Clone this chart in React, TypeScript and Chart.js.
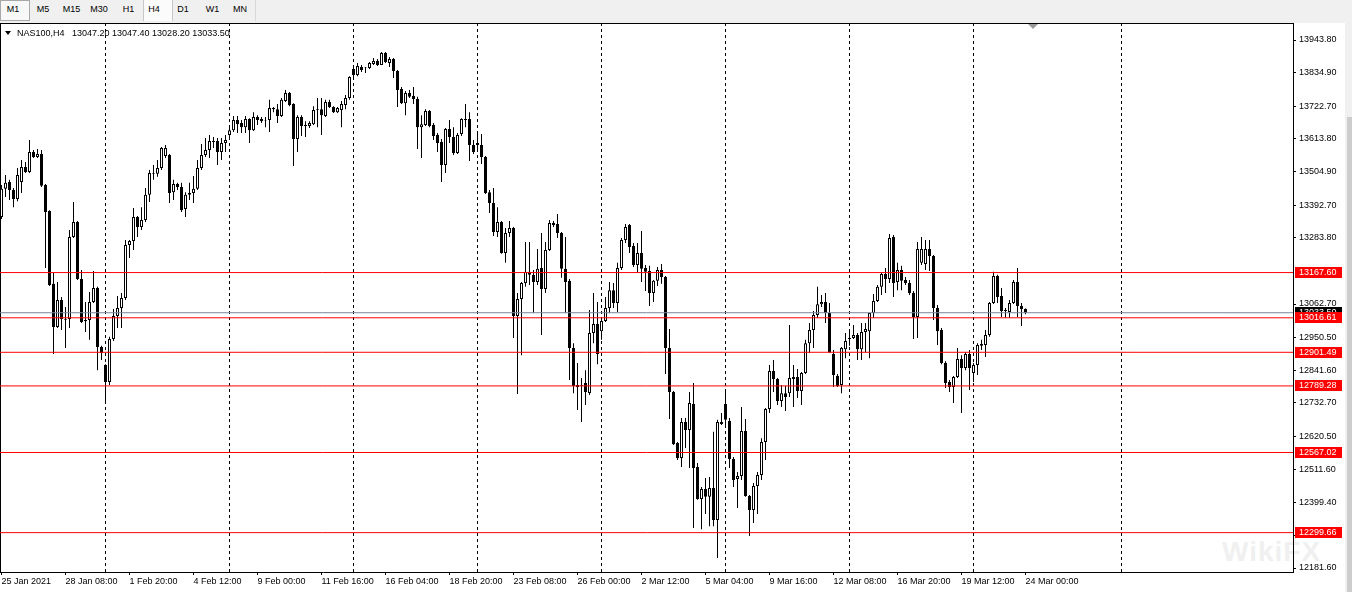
import React, { useEffect, useRef } from "react";
import { Chart, registerables } from "chart.js";

Chart.register(...registerables);

const FONT = "'Liberation Sans', Arial, sans-serif";

const symbolTitle = "NAS100,H4";
const lastQuote = ["13047.20", "13047.40", "13028.20", "13033.50"];
const timeframes = ["M1", "M5", "M15", "M30", "H1", "H4", "D1", "W1", "MN"];

const opens = [
  13353, 13447, 13470, 13443, 13413, 13470, 13520, 13503, 13570, 13553,
  13563, 13460, 13373, 13130, 12986, 13076, 13013, 13013, 13286, 13336,
  13146, 13005, 13009, 13069, 13116, 12919, 12859, 12802, 12946, 13023,
  13049, 13083, 13260, 13273, 13353, 13320, 13343, 13427, 13497, 13497,
  13517, 13557, 13560, 13436, 13463, 13453, 13380, 13427, 13433, 13447,
  13517, 13560, 13577, 13607, 13607, 13570, 13600, 13627, 13643, 13677,
  13667, 13653, 13680, 13643, 13687, 13680, 13675, 13677, 13717, 13713,
  13690, 13740, 13767, 13730, 13613, 13687, 13657, 13657, 13663, 13710,
  13713, 13690, 13737, 13720, 13703, 13710, 13727, 13750, 13847, 13827,
  13854, 13850, 13850, 13864, 13874, 13860, 13900, 13867, 13880, 13840,
  13780, 13733, 13767, 13757, 13747, 13653, 13660, 13707, 13660, 13627,
  13603, 13527, 13647, 13620, 13567, 13630, 13677, 13680, 13593, 13600,
  13593, 13553, 13436, 13400, 13303, 13336, 13233, 13300, 13316, 13023,
  13079, 13133, 13170, 13160, 13136, 13183, 13113, 13243, 13333, 13330,
  13300, 13180, 13140, 12916, 12792, 12790, 12799, 12766, 12966, 12996,
  12972, 13006, 13049, 13109, 13066, 13183, 13276, 13326, 13256, 13193,
  13233, 13183, 13173, 13099, 13140, 13176, 13153, 12916, 12769, 12599,
  12549, 12669, 12642, 12729, 12519, 12412, 12445, 12419, 12449, 12342,
  12669, 12729, 12672, 12545, 12479, 12489, 12639, 12422, 12375, 12455,
  12492, 12602, 12712, 12839, 12812, 12739, 12765, 12765, 12819, 12819,
  12772, 12832, 12932, 12976, 13026, 13062, 13069, 13033, 12896, 12823,
  12792, 12912, 12946, 12949, 12959, 12912, 12969, 12972, 13033, 13073,
  13120, 13163, 13146, 13286, 13136, 13176, 13143, 13133, 13099, 13019,
  13200, 13196, 13246, 13223, 13049, 12976, 12866, 12802, 12786, 12819,
  12879, 12849, 12896, 12832, 12859, 12923, 12926, 12959, 13066, 13156,
  13089, 13039, 13036, 13066, 13136, 13056, 13047.2,
];

const highs = [
  13460, 13493, 13477, 13450, 13517, 13543, 13537, 13610, 13577, 13580,
  13577, 13463, 13376, 13166, 13136, 13086, 13053, 13310, 13403, 13340,
  13176, 13069, 13103, 13173, 13120, 12923, 12862, 12953, 13046, 13089,
  13099, 13276, 13276, 13383, 13356, 13386, 13450, 13510, 13527, 13543,
  13587, 13593, 13563, 13477, 13467, 13467, 13436, 13467, 13490, 13543,
  13597, 13617, 13627, 13620, 13617, 13617, 13627, 13650, 13690, 13690,
  13677, 13690, 13683, 13703, 13693, 13687, 13687, 13744, 13720, 13730,
  13750, 13777, 13770, 13733, 13693, 13693, 13673, 13673, 13723, 13750,
  13750, 13744, 13744, 13723, 13720, 13740, 13760, 13823, 13854, 13867,
  13860, 13854, 13870, 13884, 13880, 13904, 13904, 13887, 13884, 13844,
  13787, 13774, 13777, 13787, 13754, 13693, 13713, 13710, 13667, 13633,
  13613, 13650, 13677, 13653, 13633, 13683, 13730, 13703, 13610, 13633,
  13630, 13557, 13443, 13450, 13386, 13340, 13316, 13340, 13320, 13099,
  13136, 13270, 13270, 13176, 13246, 13300, 13270, 13343, 13340, 13363,
  13303, 13286, 13146, 12932, 12866, 12816, 12842, 13043, 13099, 13069,
  13009, 13086, 13136, 13133, 13200, 13283, 13330, 13330, 13266, 13266,
  13306, 13193, 13190, 13143, 13186, 13196, 13156, 12979, 12772, 12602,
  12682, 12682, 12769, 12799, 12532, 12452, 12482, 12485, 12636, 12676,
  12699, 12769, 12682, 12552, 12502, 12719, 12679, 12425, 12465, 12502,
  12615, 12716, 12859, 12876, 12816, 12792, 12789, 12993, 12859, 12846,
  12836, 12943, 12999, 13039, 13120, 13093, 13099, 13066, 12909, 12829,
  12919, 12966, 12976, 12993, 12966, 12999, 12999, 13033, 13096, 13126,
  13166, 13183, 13296, 13293, 13200, 13190, 13153, 13143, 13106, 13270,
  13286, 13276, 13276, 13226, 13059, 12983, 12872, 12809, 12822, 12916,
  12892, 12902, 12909, 12866, 12932, 12943, 12976, 13069, 13170, 13160,
  13116, 13049, 13076, 13143, 13183, 13066, 13047.4,
];

const lows = [
  13346, 13420, 13410, 13386, 13406, 13433, 13500, 13500, 13550, 13550,
  13453, 13183, 13123, 12896, 12983, 12976, 12916, 12983, 13283, 13143,
  12999, 12969, 12943, 13066, 12842, 12876, 12736, 12792, 12939, 12983,
  12983, 13076, 13216, 13243, 13286, 13310, 13336, 13403, 13477, 13487,
  13510, 13550, 13400, 13410, 13443, 13370, 13353, 13410, 13400, 13443,
  13510, 13553, 13550, 13583, 13527, 13543, 13570, 13610, 13637, 13633,
  13633, 13633, 13600, 13640, 13660, 13667, 13653, 13637, 13703, 13667,
  13687, 13737, 13723, 13523, 13570, 13623, 13620, 13650, 13660, 13653,
  13627, 13687, 13717, 13700, 13700, 13653, 13713, 13744, 13810, 13823,
  13837, 13834, 13847, 13860, 13857, 13860, 13867, 13854, 13817, 13720,
  13730, 13693, 13750, 13730, 13580, 13550, 13657, 13653, 13610, 13570,
  13470, 13500, 13600, 13560, 13563, 13623, 13653, 13540, 13563, 13570,
  13530, 13430, 13366, 13290, 13286, 13230, 13200, 13286, 12949, 12762,
  12892, 13120, 13126, 13033, 13126, 12959, 13099, 13240, 13320, 13283,
  13150, 13033, 12809, 12765, 12709, 12669, 12726, 12759, 12932, 12862,
  12943, 13003, 13033, 13049, 13036, 13176, 13266, 13233, 13186, 13166,
  13136, 13106, 13056, 13069, 13123, 13130, 12829, 12679, 12592, 12542,
  12519, 12582, 12515, 12315, 12409, 12311, 12362, 12321, 12321, 12215,
  12659, 12659, 12515, 12452, 12382, 12475, 12419, 12288, 12332, 12362,
  12475, 12542, 12699, 12769, 12726, 12719, 12706, 12752, 12719, 12749,
  12726, 12829, 12899, 12916, 13016, 13053, 12999, 12899, 12786, 12786,
  12765, 12882, 12923, 12946, 12876, 12876, 12902, 12882, 13016, 13069,
  13093, 13099, 13133, 13086, 13109, 13109, 13126, 13093, 12946, 12949,
  13193, 13176, 13173, 13009, 12926, 12862, 12782, 12769, 12732, 12816,
  12699, 12842, 12776, 12802, 12826, 12909, 12886, 12953, 13063, 13066,
  13019, 13016, 13016, 13063, 13019, 12989, 13028.2,
];

const closes = [
  13447, 13467, 13443, 13413, 13493, 13520, 13503, 13570, 13553, 13563,
  13457, 13370, 13126, 12986, 13076, 13013, 13010, 13286, 13336, 13146,
  13003, 13009, 13069, 13116, 12919, 12899, 12802, 12946, 13023, 13049,
  13083, 13260, 13273, 13353, 13320, 13343, 13427, 13500, 13500, 13517,
  13583, 13583, 13433, 13463, 13453, 13376, 13427, 13433, 13447, 13517,
  13560, 13577, 13607, 13603, 13570, 13600, 13610, 13643, 13677, 13663,
  13653, 13680, 13643, 13687, 13677, 13673, 13677, 13717, 13713, 13690,
  13744, 13767, 13727, 13613, 13687, 13657, 13660, 13667, 13710, 13713,
  13693, 13737, 13720, 13703, 13717, 13730, 13750, 13820, 13827, 13857,
  13844, 13852, 13867, 13874, 13860, 13900, 13870, 13880, 13840, 13777,
  13733, 13767, 13754, 13747, 13653, 13663, 13707, 13657, 13623, 13600,
  13527, 13647, 13620, 13567, 13627, 13680, 13680, 13593, 13570, 13593,
  13553, 13433, 13400, 13303, 13336, 13233, 13300, 13316, 13023, 13079,
  13133, 13170, 13160, 13136, 13180, 13113, 13243, 13333, 13326, 13300,
  13180, 13136, 12916, 12789, 12786, 12792, 12769, 12966, 12996, 12896,
  13006, 13049, 13109, 13066, 13183, 13276, 13320, 13253, 13193, 13233,
  13180, 13170, 13099, 13140, 13176, 13153, 12916, 12769, 12595, 12549,
  12669, 12642, 12732, 12515, 12412, 12445, 12419, 12449, 12342, 12669,
  12662, 12676, 12545, 12475, 12489, 12639, 12422, 12375, 12455, 12492,
  12602, 12712, 12839, 12812, 12739, 12765, 12752, 12816, 12812, 12772,
  12832, 12932, 12976, 13026, 13062, 13069, 13033, 12902, 12826, 12789,
  12916, 12939, 12949, 12959, 12912, 12969, 12979, 13033, 13073, 13120,
  13163, 13146, 13283, 13133, 13176, 13140, 13133, 13099, 13019, 13246,
  13246, 13246, 13223, 13049, 12972, 12866, 12799, 12786, 12819, 12879,
  12849, 12896, 12849, 12859, 12926, 12929, 12959, 13066, 13156, 13086,
  13039, 13043, 13066, 13136, 13056, 13046, 13033.5,
];

const xTickLabels = [
  "25 Jan 2021", "28 Jan 08:00", "1 Feb 20:00", "4 Feb 12:00", "9 Feb 00:00",
  "11 Feb 16:00", "16 Feb 04:00", "18 Feb 20:00", "23 Feb 08:00", "26 Feb 00:00",
  "2 Mar 12:00", "5 Mar 04:00", "9 Mar 16:00", "12 Mar 08:00", "16 Mar 20:00",
  "19 Mar 12:00", "24 Mar 00:00",
];
const barsPerTimeLabel = 16;

const yTickValues = [
  13943.8, 13834.9, 13722.7, 13613.8, 13504.9, 13392.7, 13283.8, 13062.7,
  12950.5, 12841.6, 12732.7, 12620.5, 12511.6, 12399.4, 12290.5, 12181.6,
];

const levelPrices = [13167.6, 13016.61, 12901.49, 12789.28, 12567.02, 12299.66];
const bidPrice = 13033.5;
const separatorBars = [26, 57, 88, 119, 150, 181, 212, 243, 280];

// view window (bar index range and price range shown)
const X_MIN = -0.375;
const X_MAX = 322.875;
const Y_MIN = 12168.25;
const Y_MAX = 14000.54;

export default function App() {
  const canvasRef = useRef<HTMLCanvasElement | null>(null);

  useEffect(() => {
    const prevMargin = document.body.style.margin;
    document.body.style.margin = "0";
    const canvas = canvasRef.current;
    if (!canvas) return;

    const idx = opens.map((_, i) => i);
    const bodies = idx.map((i) => ({ x: i, y: [opens[i], closes[i]] }));
    const wicks = idx.map((i) => ({ x: i, y: [lows[i], highs[i]] }));
    const bodyColors = idx.map((i) => (closes[i] >= opens[i] ? "#ffffff" : "#000000"));

    const datasets: any[] = [];
    separatorBars.forEach((c) =>
      datasets.push({
        type: "line",
        data: [
          { x: c, y: Y_MIN },
          { x: c, y: Y_MAX },
        ],
        borderColor: "#000000",
        borderWidth: 1,
        borderDash: [3, 3],
        pointRadius: 0,
        order: 10,
      })
    );
    datasets.push({
      type: "bar",
      data: wicks,
      backgroundColor: "#000000",
      borderWidth: 0,
      barThickness: 1,
      grouped: false,
      inflateAmount: 0,
      order: 6,
    });
    datasets.push({
      type: "bar",
      data: bodies,
      backgroundColor: bodyColors,
      borderColor: "#000000",
      borderWidth: 1,
      borderSkipped: false,
      barThickness: 3,
      grouped: false,
      inflateAmount: 0,
      order: 5,
    });
    datasets.push({
      type: "line",
      data: [
        { x: -10, y: bidPrice },
        { x: 400, y: bidPrice },
      ],
      borderColor: "#778899",
      borderWidth: 1,
      pointRadius: 0,
      order: 3,
    });
    levelPrices.forEach((p) =>
      datasets.push({
        type: "line",
        data: [
          { x: -10, y: p },
          { x: 400, y: p },
        ],
        borderColor: "#ff0000",
        borderWidth: 1,
        pointRadius: 0,
        order: 1,
      })
    );

    const priceTags = {
      id: "priceTags",
      afterDraw(chart: any) {
        const { ctx, chartArea, scales } = chart;
        const y = scales.y;
        ctx.save();
        ctx.font = `9px ${FONT}`;
        ctx.textBaseline = "middle";
        ctx.textAlign = "left";
        const draw = (price: number, bg: string) => {
          const py = y.getPixelForValue(price);
          const top = Math.floor(py) - 5;
          ctx.fillStyle = bg;
          ctx.fillRect(chartArea.right + 2, top, 47, 11);
          ctx.fillStyle = "#ffffff";
          ctx.fillText(price.toFixed(2), chartArea.right + 6, top + 6);
        };
        draw(bidPrice, "#000000");
        levelPrices.forEach((p) => draw(p, "#ff0000"));
        ctx.restore();
      },
    };

    const chart = new Chart(canvas, {
      type: "bar",
      data: { datasets },
      options: {
        animation: false,
        responsive: false,
        devicePixelRatio: 1,
        events: [],
        layout: { padding: 0, autoPadding: false },
        plugins: {
          legend: { display: false },
          tooltip: { enabled: false },
          title: { display: false },
        },
        scales: {
          x: {
            type: "linear",
            min: X_MIN,
            max: X_MAX,
            offset: false,
            bounds: "data",
            beginAtZero: false,
            grid: {
              display: true,
              drawOnChartArea: false,
              drawTicks: true,
              tickLength: 3,
              color: "#000000",
              offset: false,
            },
            border: { display: true, color: "#000000" },
            ticks: {
              autoSkip: false,
              maxRotation: 0,
              minRotation: 0,
              align: "start",
              padding: 1,
              color: "#000000",
              font: { family: FONT, size: 9 },
              callback: (_v: any, i: number) => xTickLabels[i] ?? "",
            },
            afterBuildTicks: (s: any) => {
              s.ticks = xTickLabels.map((_, k) => ({ value: k * barsPerTimeLabel }));
            },
            afterFit: (s: any) => {
              s.height = 20;
              s.paddingLeft = 0;
              s.paddingRight = 0;
            },
          },
          y: {
            type: "linear",
            position: "right",
            min: Y_MIN,
            max: Y_MAX,
            bounds: "data",
            beginAtZero: false,
            grid: {
              display: true,
              drawOnChartArea: false,
              drawTicks: true,
              tickLength: 3,
              color: "#000000",
            },
            border: { display: true, color: "#000000" },
            ticks: {
              autoSkip: false,
              padding: 3,
              color: "#000000",
              font: { family: FONT, size: 9 },
              callback: (v: any) => Number(v).toFixed(2),
            },
            afterBuildTicks: (s: any) => {
              s.ticks = yTickValues.map((v) => ({ value: v }));
            },
            afterFit: (s: any) => {
              s.width = 50;
              s.paddingTop = 0;
              s.paddingBottom = 0;
            },
          },
        },
      } as any,
      plugins: [priceTags as any],
    });

    return () => {
      chart.destroy();
      document.body.style.margin = prevMargin;
    };
  }, []);

  const tfCenters = [13, 43, 71.5, 99, 128.5, 154, 183, 212.5, 240];

  return (
    <div
      style={{
        position: "fixed",
        left: 0,
        top: 0,
        width: 1352,
        height: 592,
        background: "#ffffff",
        overflow: "hidden",
        fontFamily: FONT,
      }}
    >
      {/* timeframe toolbar */}
      <div style={{ position: "absolute", left: 0, top: 0, width: 1352, height: 23, background: "#f0f0f0" }} />
      <div
        style={{
          position: "absolute",
          left: 0,
          top: 0,
          width: 30,
          height: 21,
          boxSizing: "border-box",
          border: "1px solid #a8a8a8",
          background: "#f8f8f8",
        }}
      />
      <div
        style={{
          position: "absolute",
          left: 143,
          top: 0,
          width: 30,
          height: 21,
          boxSizing: "border-box",
          borderLeft: "1px solid #c8c8c8",
          borderRight: "1px solid #c8c8c8",
          background: "#fbfbfb",
        }}
      />
      <div style={{ position: "absolute", left: 255, top: 0, width: 1, height: 21, background: "#d8d8d8" }} />
      {timeframes.map((t, i) => (
        <div
          key={t}
          style={{
            position: "absolute",
            left: tfCenters[i] - 15,
            width: 30,
            top: 3,
            height: 13,
            lineHeight: "13px",
            fontSize: 9,
            textAlign: "center",
            color: "#000000",
          }}
        >
          {t}
        </div>
      ))}

      {/* plot frame (left / top edges) */}
      <div
        style={{
          position: "absolute",
          left: 0,
          top: 23,
          width: 1294,
          height: 550,
          boxSizing: "border-box",
          borderLeft: "1px solid #000",
          borderTop: "1px solid #000",
        }}
      />

      {/* watermark */}
      <div
        style={{
          position: "absolute",
          left: 1222,
          top: 536,
          fontSize: 28,
          fontWeight: "bold",
          color: "#f0f0f0",
          letterSpacing: 1,
        }}
      >
        WikiFX
      </div>

      <canvas
        ref={canvasRef}
        width={1343}
        height={569}
        style={{ position: "absolute", left: 0, top: 23, width: 1343, height: 569, display: "block" }}
      />

      {/* chart title */}
      <div
        style={{
          position: "absolute",
          left: 5,
          top: 31,
          width: 0,
          height: 0,
          borderLeft: "3px solid transparent",
          borderRight: "3px solid transparent",
          borderTop: "4px solid #000",
        }}
      />
      <div
        style={{
          position: "absolute",
          left: 17,
          top: 27,
          fontSize: 9,
          lineHeight: "12px",
          whiteSpace: "pre",
          color: "#000000",
        }}
      >
        {symbolTitle + "   " + lastQuote.join(" ")}
      </div>

      {/* chart shift marker */}
      <div
        style={{
          position: "absolute",
          left: 1028,
          top: 24,
          width: 0,
          height: 0,
          borderLeft: "5px solid transparent",
          borderRight: "5px solid transparent",
          borderTop: "5px solid #9a9a9a",
        }}
      />

      {/* scrollbar strip */}
      <div style={{ position: "absolute", left: 1345, top: 23, width: 7, height: 569, background: "#f0f0f0" }} />
      <div style={{ position: "absolute", left: 1347, top: 117, width: 5, height: 475, background: "#cdcdcd" }} />
    </div>
  );
}
